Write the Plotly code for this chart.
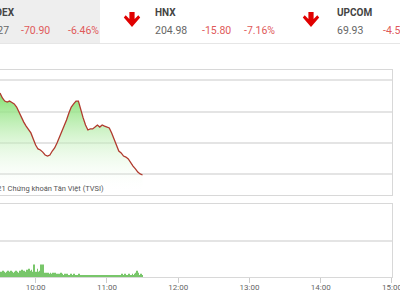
import plotly.graph_objects as go

W, H = 400, 300

# ---- data ----
price_start_hour = 9.5
price_step_min = 2
price_values = [
    1089.0, 1086.6, 1085.1, 1084.6, 1085.1, 1084.2, 1083.7, 1082.2, 1079.8, 1077.0,
    1075.0, 1073.1, 1071.7, 1069.8, 1066.9, 1064.0, 1062.1, 1061.6, 1060.6, 1059.2,
    1058.7, 1059.2, 1061.1, 1062.6, 1065.0, 1067.8, 1070.2, 1072.6, 1076.0, 1079.4,
    1082.2, 1083.7, 1085.1, 1085.1, 1080.8, 1077.0, 1073.6, 1071.2, 1071.7, 1071.7,
    1072.6, 1073.6, 1072.6, 1073.6, 1073.1, 1072.6, 1072.2, 1069.8, 1066.4, 1064.0,
    1061.1, 1060.2, 1058.7, 1058.2, 1057.3, 1055.4, 1053.9, 1052.5, 1051.0, 1050.1,
    1049.6,
]
volume_step_min = 1
volume_values = [
    5, 4, 6, 5, 4, 5, 6, 4, 5, 6,
    5, 4, 5, 6, 5, 4, 6, 5, 7, 5,
    6, 5, 7, 6, 8, 6, 7, 5, 12, 4,
    5, 8, 5, 6, 12, 5, 12, 4, 4, 3,
    4, 3, 4, 3, 4, 3, 4, 3, 3, 2,
    3, 4, 3, 2, 3, 2, 3, 2, 2, 3,
    2, 2, 3, 2, 2, 2, 3, 2, 2, 1,
    2, 1, 2, 1, 2, 1, 2, 1, 1, 2,
    1, 2, 1, 2, 1, 2, 1, 2, 2, 1,
    2, 2, 1, 2, 2, 2, 1, 2, 2, 1,
    2, 2, 3, 2, 2, 3, 2, 2, 3, 2,
    2, 3, 2, 3, 4, 6, 4, 2, 3, 2,
]
tick_hours = [10, 11, 12, 13, 14, 15]
tick_labels = ["10:00", "11:00", "12:00", "13:00", "14:00", "15:00"]

price_times = [price_start_hour + i * price_step_min / 60 for i in range(len(price_values))]
volume_times = [price_start_hour + (i + 0.5) * volume_step_min / 60 for i in range(len(volume_values))]

header = [
    # (text, x_px, y_px, anchor, bold, color)
    ("VNINDEX", 15.0, 12.5, "right", True, "#444444"),
    ("1026.27", 8.5, 31, "right", False, "#666666"),
    ("-70.90", 20.5, 31, "left", False, "#e05a5a"),
    ("-6.46%", 67.5, 31, "left", False, "#e05a5a"),
    ("HNX", 155.3, 12.5, "left", True, "#444444"),
    ("204.98", 155.3, 31, "left", False, "#666666"),
    ("-15.80", 201.5, 31, "left", False, "#e05a5a"),
    ("-7.16%", 244.0, 31, "left", False, "#e05a5a"),
    ("UPCOM", 336.5, 12.5, "left", True, "#444444"),
    ("69.93", 336.5, 31, "left", False, "#666666"),
    ("-4.53", 382.7, 31, "left", False, "#e05a5a"),
]
arrow_centers = [132, 311]


def px(x):
    return x / W


def py(y):
    return 1 - y / H


fig = go.Figure()

fig.add_trace(go.Scatter(
    x=price_times, y=price_values, mode="lines",
    line=dict(color="#b03a2e", width=1.3),
    fill="tozeroy",
    fillgradient=dict(type="vertical", start=1041, stop=1090,
                      colorscale=[[0, "rgba(255,255,255,0)"], [1, "rgb(125,222,105)"]]),
    xaxis="x", yaxis="y", hoverinfo="skip",
))

fig.add_trace(go.Bar(
    x=volume_times, y=volume_values,
    marker=dict(color="#78c66a", line=dict(width=0)),
    xaxis="x2", yaxis="y2", hoverinfo="skip",
))

grid = "#e4e4e4"
border = "#d8d8d8"
xr = [9.5, 15.0001]

fig.update_layout(
    width=W, height=H, margin=dict(l=0, r=0, t=0, b=0),
    paper_bgcolor="white", plot_bgcolor="white",
    showlegend=False, bargap=0.3,
    xaxis=dict(domain=[0, px(392)], range=xr, anchor="y", showgrid=False,
               showticklabels=False, ticks="", showline=True, linecolor=border,
               mirror=True, zeroline=False),
    yaxis=dict(domain=[py(195), py(70)], range=[1040, 1100], dtick=15,
               showgrid=True, gridcolor=grid, gridwidth=1.5, showticklabels=False,
               showline=True, linecolor=border, mirror=True, zeroline=False),
    xaxis2=dict(domain=[0, px(392)], range=xr, anchor="y2", showgrid=False,
                tickvals=tick_hours, ticktext=tick_labels, ticks="outside",
                ticklen=5, tickcolor="#cccccc", ticklabeloverflow="allow",
                ticklabelstandoff=-3,
                tickfont=dict(family="Roboto", size=8, color="#666666"),
                showline=True, linecolor=border, mirror=True, zeroline=False,
                automargin=False),
    yaxis2=dict(domain=[py(277), py(204)], range=[0, 70], dtick=35,
                showgrid=True, gridcolor=grid, gridwidth=1.5, showticklabels=False,
                showline=True, linecolor=border, mirror=True, zeroline=False),
)

shapes = [
    dict(type="rect", xref="paper", yref="paper", x0=0, x1=px(100), y0=py(43), y1=1,
         fillcolor="#eeeeee", line=dict(width=0), layer="below"),
    dict(type="line", xref="paper", yref="paper", x0=0, x1=1, y0=py(43.5), y1=py(43.5),
         line=dict(color="#e6e6e6", width=1)),
]
for c in arrow_centers:
    pts = [(c - 2.6, 12), (c + 2.6, 12), (c + 2.6, 19), (c + 6.3, 15.2), (c + 8.2, 17.6),
           (c, 27), (c - 8.2, 17.6), (c - 6.3, 15.2), (c - 2.6, 19)]
    path = "M " + " L ".join(f"{px(x):.5f},{py(y):.5f}" for x, y in pts) + " Z"
    shapes.append(dict(type="path", xref="paper", yref="paper", path=path,
                       fillcolor="#e00000", line=dict(width=0)))
fig.update_layout(shapes=shapes)

annotations = []
for text, x, y, anchor, bold, color in header:
    annotations.append(dict(
        text=f"<b>{text}</b>" if bold else text, x=px(x), y=py(y),
        xref="paper", yref="paper", xanchor=anchor, yanchor="middle",
        showarrow=False, borderpad=0, borderwidth=0,
        font=dict(family="Roboto", size=10 if bold else 10.5, color=color),
    ))
annotations.append(dict(
    text="©2021 Chứng khoán Tân Việt (TVSI)", x=px(104), y=py(188),
    xref="paper", yref="paper", xanchor="right", yanchor="middle",
    showarrow=False, borderpad=0, borderwidth=0,
    font=dict(family="Roboto", size=7.5, color="#555555"),
))
fig.update_layout(annotations=annotations)

fig.write_html("out.html")
